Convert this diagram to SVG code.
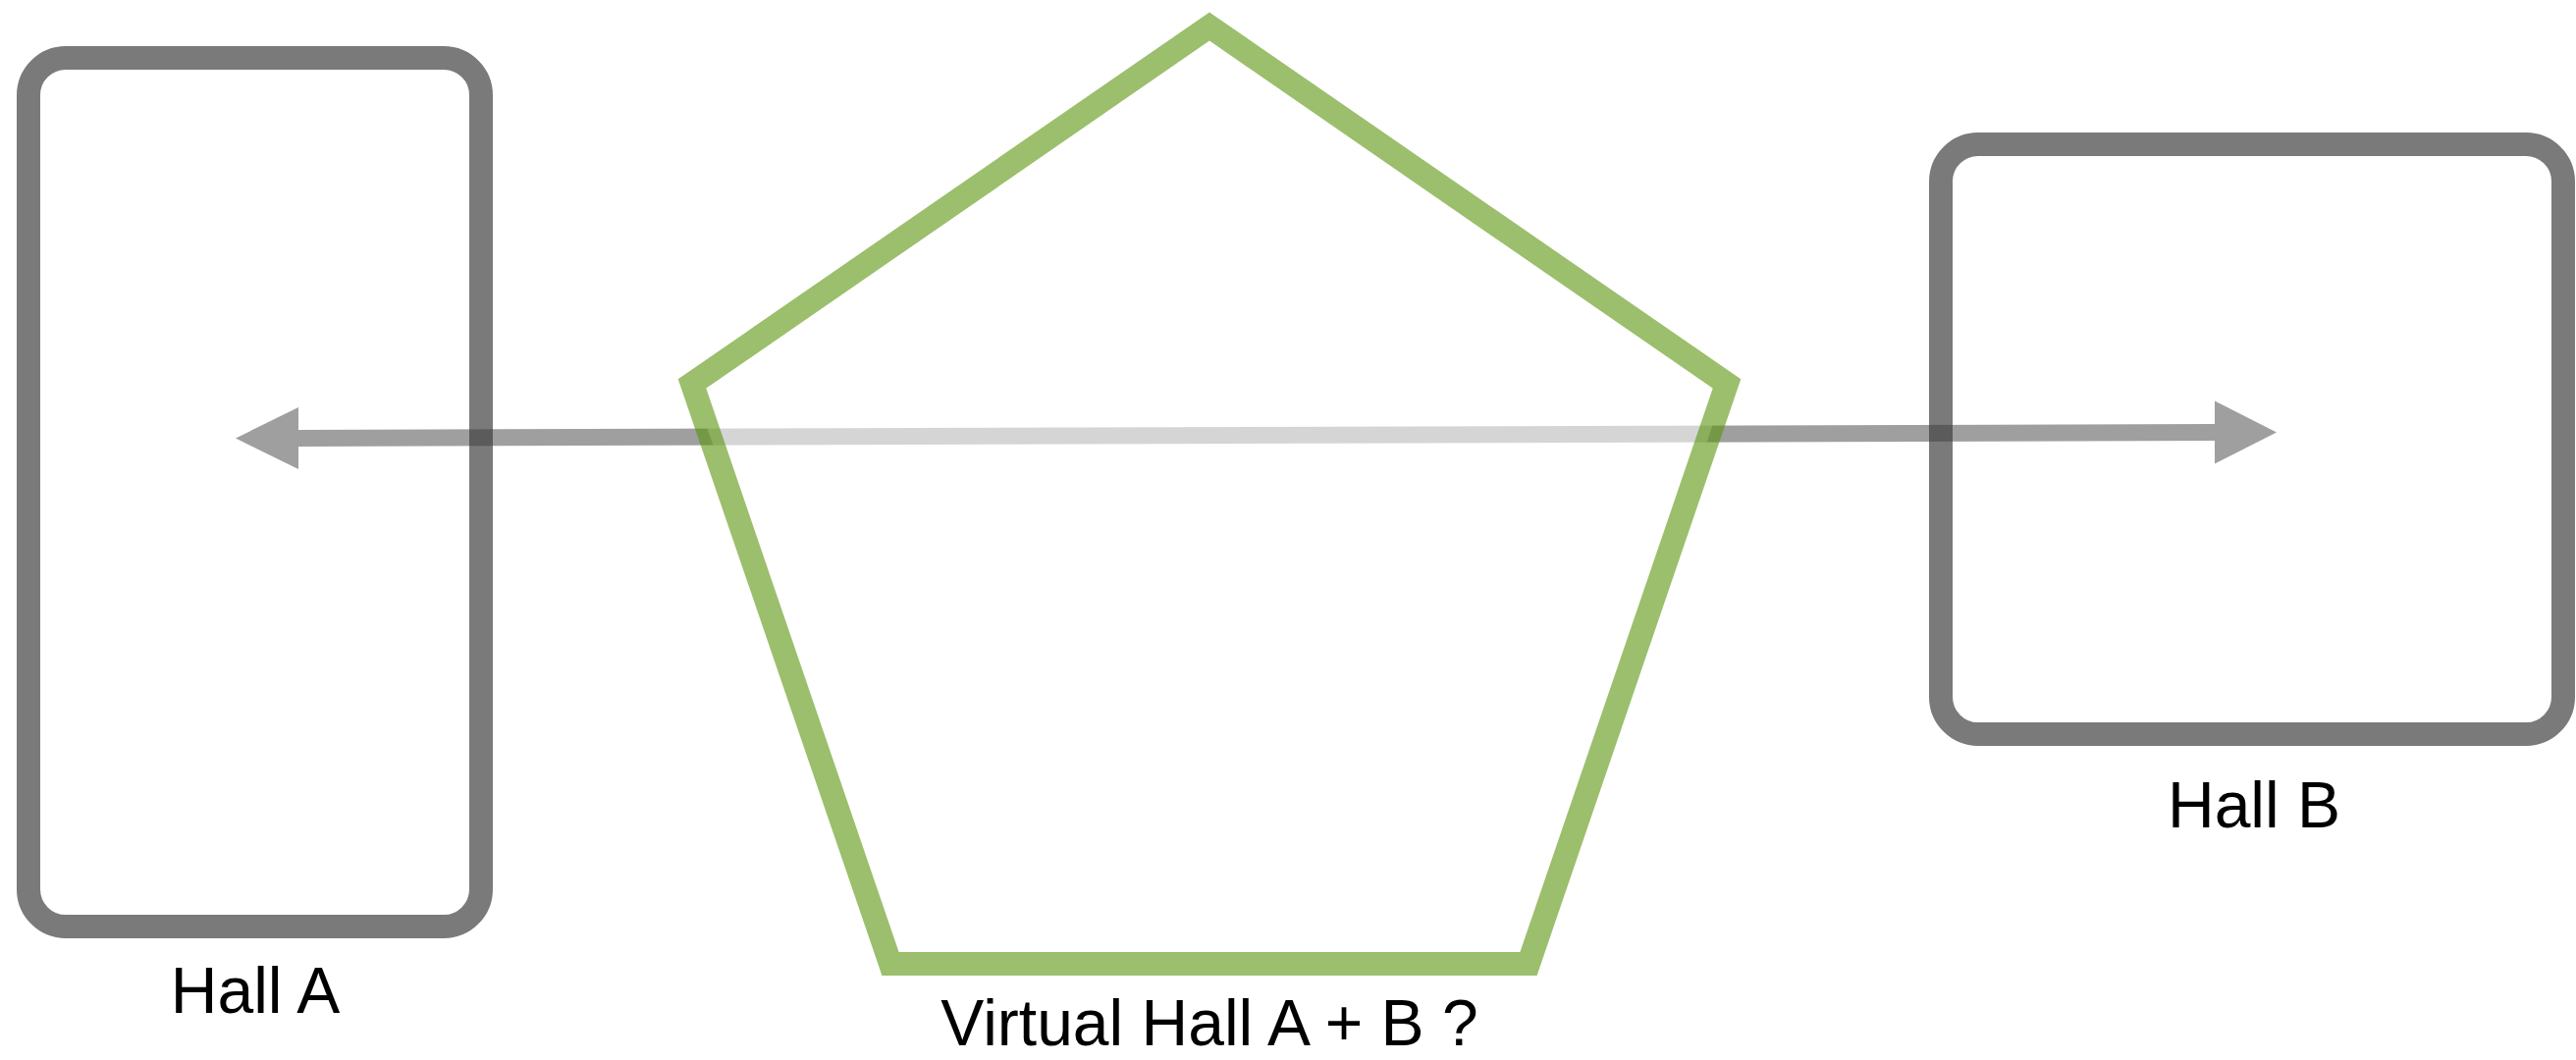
<svg xmlns="http://www.w3.org/2000/svg" width="2624" height="1080" viewBox="0 0 2624 1080">
  <style>
    .hall { fill: none; stroke: #7a7a7a; stroke-width: 24; }
    .label { font-family: "Liberation Sans", Arial, sans-serif; font-size: 66px; fill: #000; text-anchor: middle; }
    .virtual { fill: #ffffff; fill-opacity: 0.57; stroke: #58940a; stroke-opacity: 0.6; stroke-width: 24; stroke-linejoin: miter; }
    .conn-line { stroke: #3c3c3c; stroke-width: 17; fill: none; }
    .conn-head { fill: #3c3c3c; }
  </style>
  <rect width="2624" height="1080" fill="#ffffff"/>
  <g id="node-hall-a">
    <rect class="hall" x="29" y="59" width="461" height="885" rx="38" ry="38"/>
    <text class="label" x="260" y="1032">Hall A</text>
  </g>
  <g id="node-hall-b">
    <rect class="hall" x="1977" y="147" width="634" height="601" rx="38" ry="38"/>
    <text class="label" x="2296" y="843">Hall B</text>
  </g>
  <g id="connectors" opacity="0.49">
    <line class="conn-line" x1="303" y1="446.5" x2="2257" y2="440.5"/>
    <polygon class="conn-head" points="240,446.5 304,415 304,478"/>
    <polygon class="conn-head" points="2319,440.5 2256,408.5 2256,472.5"/>
  </g>
  <g id="node-virtual">
    <polygon class="virtual" points="1232,27 1759,391 1557,982 907,982 705,391"/>
    <text class="label" x="1232" y="1065">Virtual Hall A + B ?</text>
  </g>
</svg>
